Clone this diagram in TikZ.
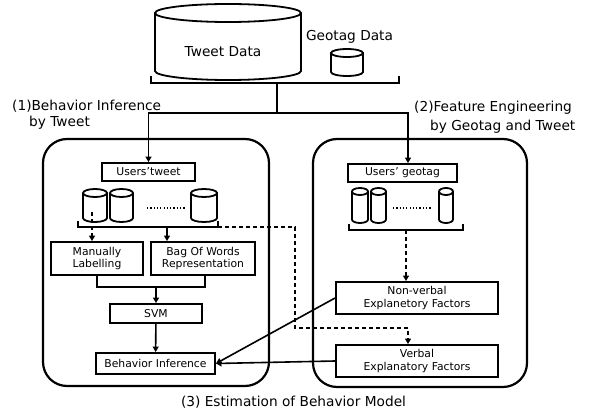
\documentclass[tikz,border=0pt]{standalone}
\usepackage{fontspec}
\setmainfont{DejaVu Sans}
\usetikzlibrary{arrows.meta}
\newcommand\mycyl[5]{% cx, rx, ytop, ybot, ry
  \draw[cylline] ({#1-#2},#3) -- ({#1-#2},#4) arc[start angle=180,end angle=360,x radius=#2pt,y radius=#5pt] -- ({#1+#2},#3);
  \draw[cylline] (#1,#3) ellipse[x radius=#2pt,y radius=#5pt];}
\begin{document}
\begin{tikzpicture}[x=1pt,y=-1pt,
  box/.style={draw,line width=1.9pt,inner sep=0pt,align=center,font=\fontsize{10.8}{12.5}\selectfont},
  panel/.style={draw,line width=2.2pt,rounded corners=24pt},
  cylline/.style={line width=1.8pt},
  conn/.style={line width=1.6pt},
  arr/.style={conn,-{Triangle[length=5.5pt,width=6pt]}},
  dline/.style={line width=1.6pt,dash pattern=on 4pt off 3pt},
  lbl/.style={inner sep=0pt,font=\fontsize{13.7}{16}\selectfont},
  dotsline/.style={line width=1.2pt,dash pattern=on 1.2pt off 2.1pt}
]
\useasboundingbox (0,0) rectangle (592,417);
\fill[white] (0,0) rectangle (592,417);

% data sources
\mycyl{228}{73}{13}{71}{9}
\node[lbl] (tweet) at (223,52) {Tweet Data};
\mycyl{347}{16}{53}{72}{4}
\node[lbl] (geo) at (349.5,37) {Geotag Data};
\draw[conn] (151,76) -- (151,83) -- (399,83) -- (399,76);
\coordinate (dataB) at (277,83);
\coordinate (split) at (277,113);

% panel labels
\node[lbl,anchor=west] (l1a) at (12,106) {(1)Behavior Inference};
\node[lbl,anchor=west] (l1b) at (29,123) {by Tweet};
\node[lbl,anchor=west] (l2a) at (414,108) {(2)Feature Engineering};
\node[lbl,anchor=west] (l2b) at (430,127) {by Geotag and Tweet};
\node[lbl] (l3) at (293.5,402) {(3) Estimation of Behavior Model};

% panels
\draw[panel] (43,139) rectangle (269,386);
\draw[panel] (313,139) rectangle (527,387);

% left panel
\node[box,minimum width=93pt,minimum height=18pt] (ut) at (148.5,172) {Users'tweet};
\mycyl{95}{12}{193}{218}{4}
\mycyl{121.5}{11.5}{193}{218}{4}
\mycyl{204}{13}{193}{218}{4}
\draw[dotsline] (147,208) -- (185,208);
\draw[conn] (78,221) -- (78,227) -- (218,227) -- (218,221);
\coordinate (lb) at (167,227);
\coordinate (lbr) at (218,227);
\coordinate (c1) at (92,212);
\node[box,minimum width=92pt,minimum height=33pt] (man) at (97,258.5) {Manually\\Labelling};
\node[box,minimum width=104pt,minimum height=33pt] (bag) at (203,258.5) {Bag Of Words\\Representation};
\node[box,minimum width=92pt,minimum height=19pt] (svm) at (156,313.5) {SVM};
\node[box,minimum width=119pt,minimum height=21pt] (bi) at (155.5,363.5) {Behavior Inference};
\coordinate (m) at (156,287);

% right panel
\node[box,minimum width=109pt,minimum height=18pt] (ug) at (402.5,173) {Users' geotag};
\mycyl{360}{8}{191.5}{219.5}{3.5}
\mycyl{378.5}{7.5}{191.5}{219.5}{3.5}
\mycyl{446}{7}{191.5}{219.5}{3.5}
\draw[dotsline] (393,208) -- (432,208);
\draw[conn] (349,224) -- (349,230) -- (463,230) -- (463,224);
\coordinate (rb) at (406,230);
\node[box,minimum width=162pt,minimum height=32pt] (nv) at (417,298) {Non-verbal\\Explanetory Factors};
\node[box,minimum width=162pt,minimum height=32pt] (vb) at (417,361) {Verbal\\Explanatory Factors};

% connectors
\draw[conn] (dataB) -- (split);
\draw[arr] (split) -| (ut.north);
\draw[arr] (split) -| ([xshift=5.5pt]ug.north);
\draw[arr,dline] (c1) -- (c1 |- man.north);
\draw[arr] (lb) -- (lb |- bag.north);
\draw[conn] (man.south) -- (man.south |- m) -| ([xshift=2pt]bag.south);
\draw[arr] (m) -- (svm.north);
\draw[arr] (svm) -- (bi);
\draw[arr,dline] (rb) -- (rb |- nv.north);
\draw[arr,dline] (lbr) -- (295,227) -- (295,328) -| ([xshift=-9pt]vb.north);
\draw[arr] (nv.west) -- (bi.east);
\draw[arr] (vb.west) -- (bi.east);
\end{tikzpicture}
\end{document}
